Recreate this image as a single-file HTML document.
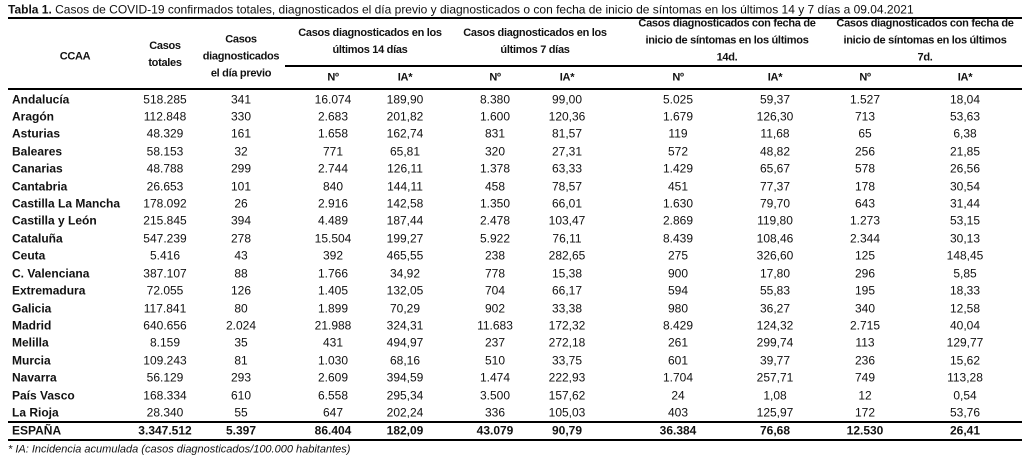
<!DOCTYPE html>
<html><head><meta charset="utf-8"><style>
body{margin:0;width:1030px;height:457px;background:#fff;position:relative;overflow:hidden;font-family:"Liberation Sans",sans-serif;color:#111}
.t{position:absolute;white-space:nowrap;font-size:12px;line-height:17px;transform:translate(-50%,-50%);text-align:center}
.l{transform:translate(0,-50%);text-align:left}
.b{font-weight:bold}
.h{font-size:11px;letter-spacing:-0.3px}
.line{position:absolute;background:#000;height:2px}
</style></head><body>
<div class="t l" style="left:8px;top:10px;font-size:12px"><b>Tabla 1.</b> Casos de COVID-19 confirmados totales, diagnosticados el día previo y diagnosticados o con fecha de inicio de síntomas en los últimos 14 y 7 días a 09.04.2021</div>
<div class="line" style="left:8px;top:17px;width:1014px"></div>
<div class="line" style="left:285px;top:65px;width:737px"></div>
<div class="line" style="left:8px;top:88px;width:1014px"></div>
<div class="line" style="left:8px;top:421px;width:1014px"></div>
<div class="line" style="left:8px;top:439px;width:1014px"></div>
<div class="t l" style="left:8px;top:450px;font-size:11px;font-style:italic">* IA: Incidencia acumulada (casos diagnosticados/100.000 habitantes)</div>
<div id="tb"></div>
<script>
const regions=["Andalucía","Aragón","Asturias","Baleares","Canarias","Cantabria","Castilla La Mancha","Castilla y León","Cataluña","Ceuta","C. Valenciana","Extremadura","Galicia","Madrid","Melilla","Murcia","Navarra","País Vasco","La Rioja"];
const totales=["518.285","112.848","48.329","58.153","48.788","26.653","178.092","215.845","547.239","5.416","387.107","72.055","117.841","640.656","8.159","109.243","56.129","168.334","28.340"];
const previo=["341","330","161","32","299","101","26","394","278","43","88","126","80","2.024","35","81","293","610","55"];
const n14=["16.074","2.683","1.658","771","2.744","840","2.916","4.489","15.504","392","1.766","1.405","1.899","21.988","431","1.030","2.609","6.558","647"];
const ia14=["189,90","201,82","162,74","65,81","126,11","144,11","142,58","187,44","199,27","465,55","34,92","132,05","70,29","324,31","494,97","68,16","394,59","295,34","202,24"];
const n7=["8.380","1.600","831","320","1.378","458","1.350","2.478","5.922","238","778","704","902","11.683","237","510","1.474","3.500","336"];
const ia7=["99,00","120,36","81,57","27,31","63,33","78,57","66,01","103,47","76,11","282,65","15,38","66,17","33,38","172,32","272,18","33,75","222,93","157,62","105,03"];
const s14=["5.025","1.679","119","572","1.429","451","1.630","2.869","8.439","275","900","594","980","8.429","261","601","1.704","24","403"];
const sia14=["59,37","126,30","11,68","48,82","65,67","77,37","79,70","119,80","108,46","326,60","17,80","55,83","36,27","124,32","299,74","39,77","257,71","1,08","125,97"];
const s7=["1.527","713","65","256","578","178","643","1.273","2.344","125","296","195","340","2.715","113","236","749","12","172"];
const sia7=["18,04","53,63","6,38","21,85","26,56","30,54","31,44","53,15","30,13","148,45","5,85","18,33","12,58","40,04","129,77","15,62","113,28","0,54","53,76"];
const totalRow=["3.347.512","5.397","86.404","182,09","43.079","90,79","36.384","76,68","12.530","26,41"];
const cols=[165,241,333,405,495,567,678,775,865,965];
const tb=document.getElementById('tb');
function put(txt,x,y,cls,name){const d=document.createElement('div');d.className='t '+cls;d.style.left=x+'px';d.style.top=y+'px';d.innerHTML=txt;


tb.appendChild(d);}
put('CCAA',75,57,'b h','header-ccaa');
put('Casos<br>totales',165,55,'b h','header-casos-totales');
put('Casos<br>diagnosticados<br>el día previo',241,57,'b h','header-dia-previo');
put('Casos diagnosticados en los<br>últimos 14 días',370,42,'b h','header-14-dias');
put('Casos diagnosticados en los<br>últimos 7 días',535,42,'b h','header-7-dias');
put('Casos diagnosticados con fecha de<br>inicio de síntomas en los últimos<br>14d.',727,41,'b h','header-sintomas-14d');
put('Casos diagnosticados con fecha de<br>inicio de síntomas en los últimos<br>7d.',925,41,'b h','header-sintomas-7d');
for(let i=0;i<4;i++){put('Nº',cols[2+i*2],78,'b h','header-n');put('IA*',cols[3+i*2],78,'b h','header-ia');}
const series=[totales,previo,n14,ia14,n7,ia7,s14,sia14,s7,sia7];
regions.forEach((r,i)=>{const y=99.5+i*17.42;
put(r,12,y,'l b','row-label');
series.forEach((s,j)=>put(s[i],cols[j],y,'','cell-value'));});
put('ESPAÑA',12,431,'l b','total-label');
totalRow.forEach((v,j)=>put(v,cols[j],431,'b','total-value'));
</script>
</body></html>
